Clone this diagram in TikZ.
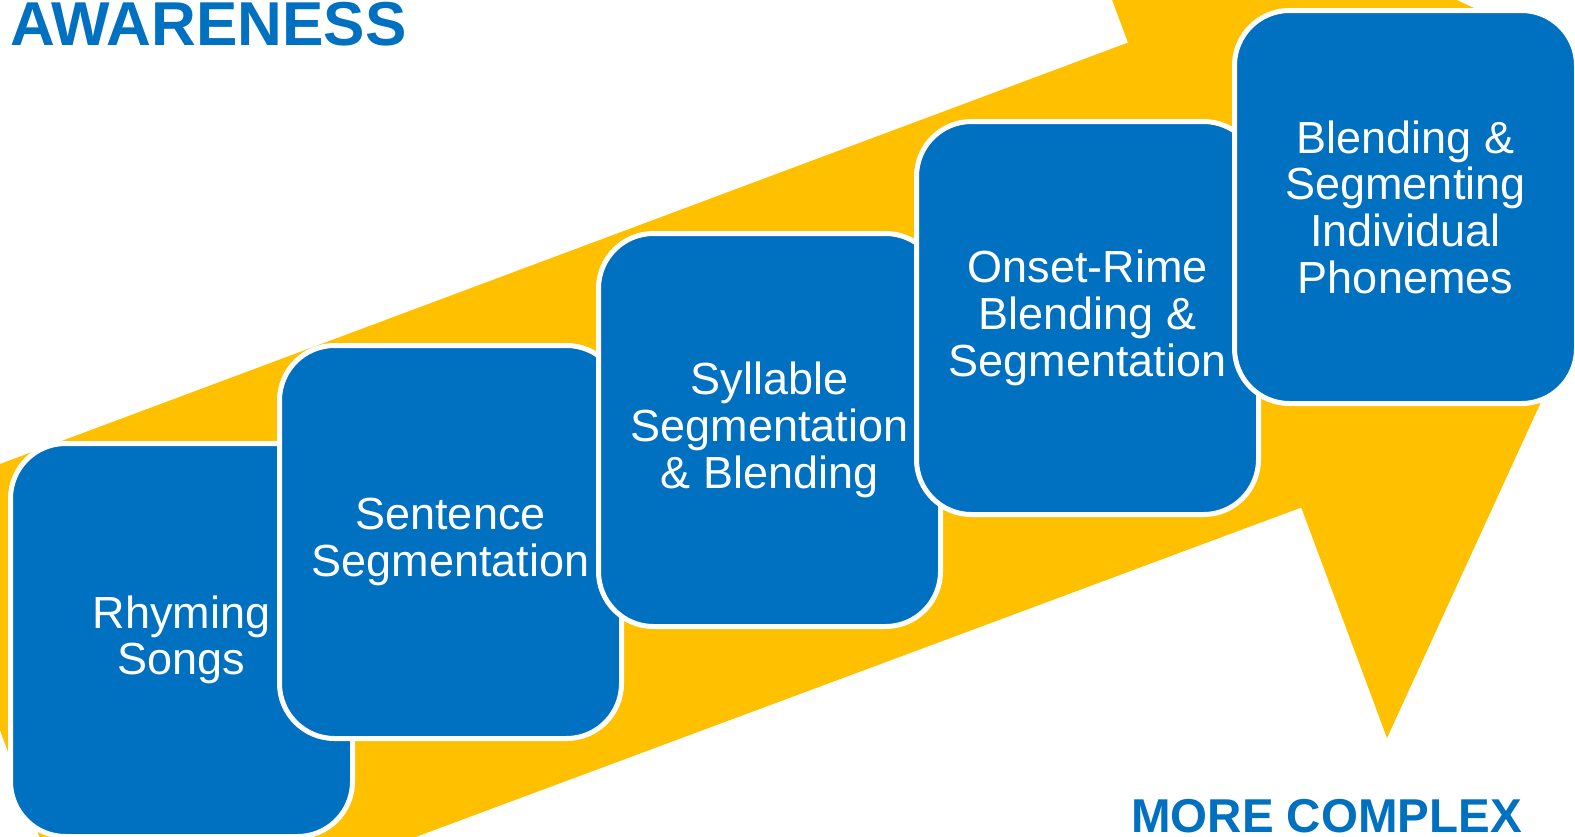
\documentclass[tikz,border=0pt]{standalone}
\usepackage{fontspec}
\setmainfont{Liberation Sans}
\definecolor{pblue}{HTML}{0070C0}
\definecolor{pyellow}{HTML}{FFC000}
\begin{document}
\begin{tikzpicture}[x=1pt,y=-1pt,
  stepbox/.style={draw=white, line width=5pt, fill=pblue, rounded corners=55pt,
    minimum width=342pt, minimum height=393pt, text=white, align=center,
    font=\fontsize{45}{46.7}\selectfont, inner sep=0pt},
  titletext/.style={text=pblue, inner sep=0pt, anchor=base west}]
\useasboundingbox (0,0) rectangle (1575,836);
\begin{scope}
\clip (0,0) rectangle (1575,836);
\fill[pyellow] (-86.5,496.3) -- (1128,42.6) -- (1041.8,-188.4) -- (1679,101)
  -- (1387,738) -- (1301.2,507.5) -- (85,960) -- cycle;
\node[stepbox] (b1) at (181.5,640) {Rhyming\\Songs};
\node[stepbox] (b2) at (450.5,542) {Sentence\\Segmentation};
\node[stepbox] (b3) at (769.5,430) {Syllable\\Segmentation\\\& Blending};
\node[stepbox] (b4) at (1087.5,318) {Onset-Rime\\Blending \&\\Segmentation};
\node[stepbox] (b5) at (1405.5,207) {Blending \&\\Segmenting\\Individual\\Phonemes};
\end{scope}
\node[titletext, font=\bfseries\fontsize{62}{62}\selectfont] (t1) at (10,45) {AWARENESS};
\node[titletext, font=\bfseries\fontsize{47.5}{47.5}\selectfont] (t2) at (1131,832) {MORE COMPLEX};
\end{tikzpicture}
\end{document}
